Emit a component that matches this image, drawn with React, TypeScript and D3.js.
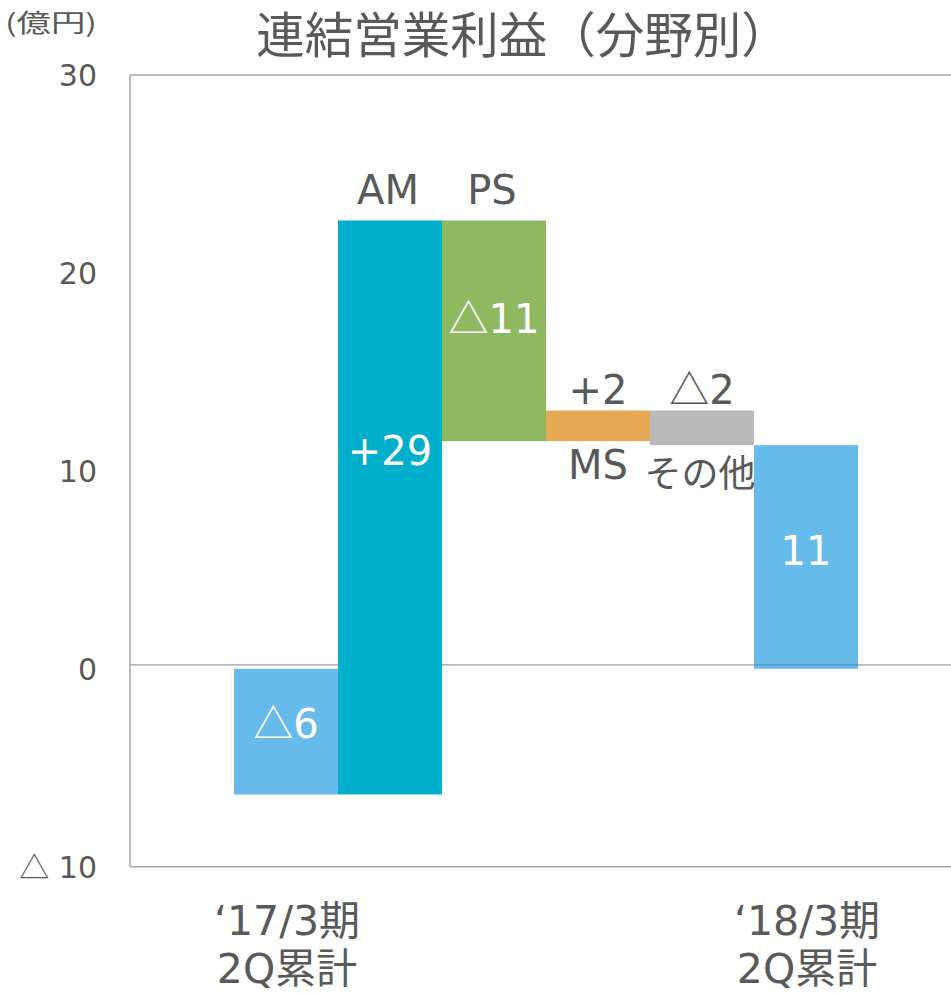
import React from "react";
import * as d3 from "d3";

const categories = ["start", "AM", "PS", "MS", "その他", "end"];
const startValue = -6.35;
const deltas = [29.0, -11.15, 1.55, -1.75];
const barColors = ["#66BBEA", "#00AFCC", "#8FB960", "#E5A855", "#BABABA", "#66BBEA"];
const valueLabels = ["△6", "+29", "△11", "+2", "△2", "11"];
const tickValues = [30, 20, 10, 0, -10];
const tickLabels = ["30", "20", "10", "0", "△ 10"];
const xLabels = [
  ["‘17/3期", "2Q累計"],
  ["‘18/3期", "2Q累計"],
];
const title = "連結営業利益（分野別）";
const unitLabel = "(億円)";

const W = 951;
const H = 993;
const LATIN = "'DejaVu Sans', 'Noto Sans CJK JP', sans-serif";
const CJK = "'Noto Sans CJK JP', sans-serif";
const TEXT = "#595959";
const AXIS = "#A6A6A6";

function renderTri(s: string) {
  const parts = s.split(/(△)/).filter((p) => p.length);
  return parts.map((p, i) =>
    p === "△" ? (
      <tspan key={i} fontFamily={CJK}>
        {p}
      </tspan>
    ) : (
      <tspan key={i}>{p}</tspan>
    )
  );
}

export default function App() {
  const y = d3.scaleLinear().domain([-10, 30]).range([866.7, 75]);
  const x = d3.scaleBand<string>().domain(categories).range([130, 962]).paddingInner(0).paddingOuter(1);
  const bw = x.bandwidth();

  const segs: { lo: number; hi: number }[] = [];
  segs.push({ lo: Math.min(0, startValue), hi: Math.max(0, startValue) });
  let cur = startValue;
  deltas.forEach((d) => {
    const nxt = cur + d;
    segs.push({ lo: Math.min(cur, nxt), hi: Math.max(cur, nxt) });
    cur = nxt;
  });
  segs.push({ lo: Math.min(0, cur), hi: Math.max(0, cur) });

  const inside = (i: number) => {
    const s = segs[i];
    if (i === 1) return y((Math.max(0, s.lo) + s.hi) / 2) + 20;
    const mid = y((s.lo + s.hi) / 2);
    return mid + [6, 0, 2, 0, 0, 8][i];
  };

  return (
    <svg
      width={W}
      height={H}
      style={{ position: "absolute", left: 0, top: 0, background: "#fff" }}
      fontFamily={LATIN}
    >
      <text x={523} y={53} textAnchor="middle" fontSize={48.5} fill={TEXT} fontFamily={CJK}>
        {title}
      </text>
      <text
        x={5}
        y={32}
        fontSize={25}
        fill={TEXT}
        fontFamily={CJK}
        textLength={92}
        lengthAdjust="spacingAndGlyphs"
      >
        {unitLabel}
      </text>

      <line x1={130} x2={W} y1={y(0) - 4} y2={y(0) - 4} stroke="#A0A0A0" strokeWidth={1.3} />

      {segs.map((s, i) => (
        <rect
          key={i}
          x={x(categories[i])!}
          y={y(s.hi)}
          width={bw}
          height={y(s.lo) - y(s.hi)}
          fill={barColors[i]}
        />
      ))}
      <line
        x1={x("end")!}
        x2={x("end")! + bw}
        y1={y(0) - 4}
        y2={y(0) - 4}
        stroke="#3B7FA8"
        strokeOpacity={0.6}
        strokeWidth={1.3}
      />

      <line x1={130} x2={W} y1={y(30)} y2={y(30)} stroke={AXIS} strokeWidth={1.5} />
      <line x1={130} x2={130} y1={y(30)} y2={y(-10)} stroke={AXIS} strokeWidth={1.5} />
      <line x1={130} x2={W} y1={y(-10)} y2={y(-10)} stroke={AXIS} strokeWidth={1.5} />

      {tickValues.map((v, i) => (
        <text key={v} x={97} y={y(v) + 11} textAnchor="end" fontSize={30} fill={TEXT}>
          {renderTri(tickLabels[i])}
        </text>
      ))}

      {[0, 1, 2, 5].map((i) => (
        <text
          key={"v" + i}
          x={x(categories[i])! + bw / 2}
          y={inside(i)}
          textAnchor="middle"
          fontSize={40}
          fill="#fff"
        >
          {renderTri(valueLabels[i])}
        </text>
      ))}

      {[3, 4].map((i) => (
        <text
          key={"a" + i}
          x={x(categories[i])! + bw / 2}
          y={y(segs[i].hi) - 6}
          textAnchor="middle"
          fontSize={40}
          fill={TEXT}
        >
          {renderTri(valueLabels[i])}
        </text>
      ))}

      {[1, 2].map((i) => (
        <text
          key={"n" + i}
          x={x(categories[i])! + bw / 2 - 2}
          y={y(segs[i].hi) - 16}
          textAnchor="middle"
          fontSize={40}
          fill={TEXT}
        >
          {categories[i]}
        </text>
      ))}
      <text x={x("MS")! + bw / 2} y={y(segs[3].lo) + 38} textAnchor="middle" fontSize={40} fill={TEXT}>
        MS
      </text>
      <text
        x={x("その他")! + bw / 2 - 2}
        y={y(segs[4].lo) + 42}
        textAnchor="middle"
        fontSize={37}
        fill={TEXT}
        fontFamily={CJK}
      >
        その他
      </text>

      {[0, 5].map((ci, k) => (
        <g key={"x" + ci}>
          <text x={x(categories[ci])! + bw / 2 + 1} y={935} textAnchor="middle" fontSize={41} fill={TEXT}>
            {xLabels[k][0]}
          </text>
          <text x={x(categories[ci])! + bw / 2 + 1} y={983} textAnchor="middle" fontSize={41} fill={TEXT}>
            {xLabels[k][1]}
          </text>
        </g>
      ))}
    </svg>
  );
}
